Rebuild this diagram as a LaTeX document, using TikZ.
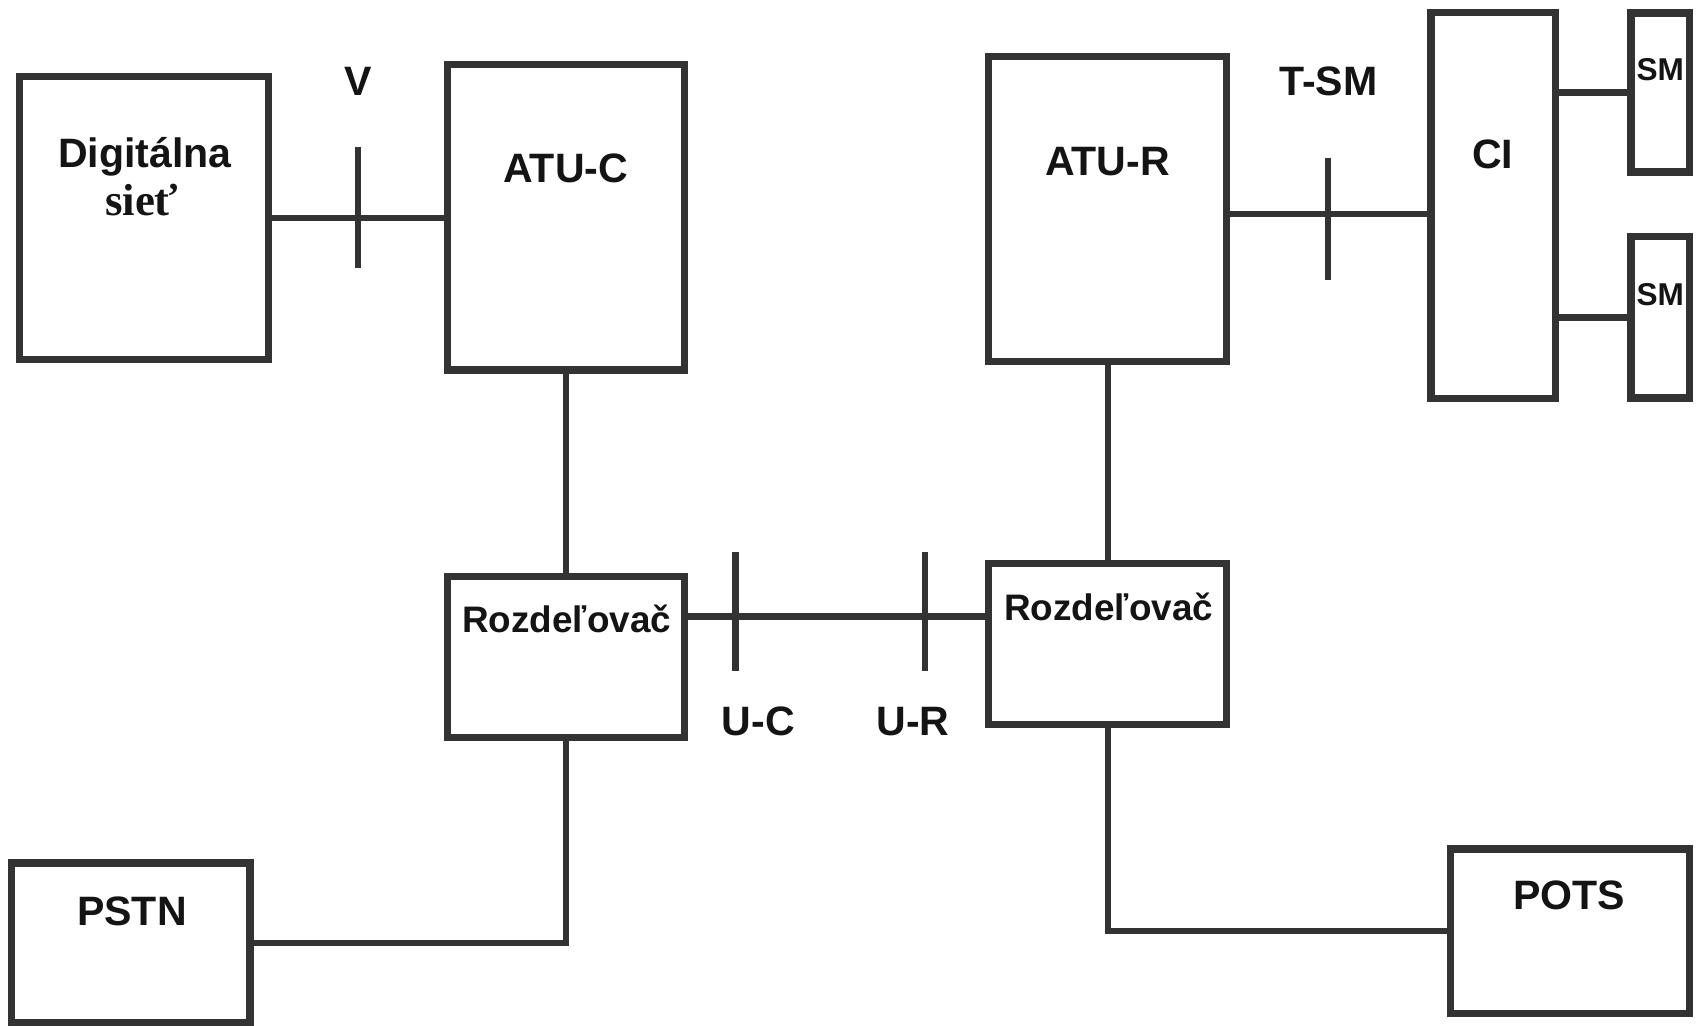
\documentclass[tikz,border=0pt]{standalone}
\usepackage{fontspec}
\setmainfont{Liberation Sans}
\newfontfamily\serifb{Liberation Serif}
\definecolor{ln}{HTML}{333333}
\definecolor{tx}{HTML}{141414}
\begin{document}
\begin{tikzpicture}[x=0.01cm,y=-0.01cm,
  box/.style={draw=ln,line width=1.9pt,inner sep=0pt,outer sep=0pt},
  wire/.style={draw=ln,line width=1.6pt},
  lbl/.style={text=tx,font=\fontsize{10.8}{12}\selectfont\bfseries,inner sep=0pt,anchor=base},
  rz/.style={lbl,font=\fontsize{9.7}{11}\selectfont\bfseries},
  smt/.style={lbl,font=\fontsize{8.3}{10}\selectfont\bfseries}]
\useasboundingbox (0,0) rectangle (1568,948);
% boxes
\node[box,minimum width=2.30cm,minimum height=2.61cm] (dig)  at (133,201.5) {};
\node[box,minimum width=2.19cm,minimum height=2.82cm] (atuc) at (523.5,201) {};
\node[box,minimum width=2.19cm,minimum height=1.49cm] (rozl) at (523.5,607.5) {};
\node[box,minimum width=2.20cm,minimum height=1.49cm] (rozr) at (1024,595.5) {};
\node[box,minimum width=2.20cm,minimum height=2.82cm] (atur) at (1024,193) {};
\node[box,minimum width=1.15cm,minimum height=3.56cm] (ci)   at (1380.5,190) {};
\node[box,minimum width=0.54cm,minimum height=1.47cm] (sma)  at (1535,85.5) {};
\node[box,minimum width=0.54cm,minimum height=1.49cm] (smb)  at (1535,293.5) {};
\node[box,minimum width=2.20cm,minimum height=1.47cm] (pstn) at (121,871.5) {};
\node[box,minimum width=2.21cm,minimum height=1.52cm] (pots) at (1451.5,861) {};
% tick coordinates
\coordinate (vT) at (331,136);   \coordinate (vB) at (331,248);
\coordinate (ucT) at (680,510);  \coordinate (ucB) at (680,620);
\coordinate (urT) at (855,510);  \coordinate (urB) at (855,620);
\coordinate (tsT) at (1228,146); \coordinate (tsB) at (1228,259);
\coordinate (uline) at (760,570);
\coordinate (tline) at (1228,198);
% connectors
\draw[wire] (dig.east) -- (dig.east -| atuc.west);
\draw[wire] (vT) -- (vB);
\draw[wire] (atuc.south) -- (rozl.north);
\draw[wire] (rozl.east |- uline) -- (rozr.west |- uline);
\draw[wire] (ucT) -- (ucB);
\draw[wire] (urT) -- (urB);
\draw[wire] (atur.south) -- (rozr.north);
\draw[wire] (atur.east |- tline) -- (ci.west |- tline);
\draw[wire] (tsT) -- (tsB);
\draw[wire] (ci.east |- sma.west) -- (sma.west);
\draw[wire] (ci.east |- smb.west) -- (smb.west);
\draw[wire] (rozl.south) |- (pstn.east);
\draw[wire] (rozr.south) |- (pots.west);
% labels
\node[lbl] (tdig) at (134,155) {Digitálna};
\node[lbl,font=\serifb\bfseries\fontsize{11.8}{13}\selectfont] (tsiet) at (131,199) {sieť};
\node[lbl] (tv) at (331,88) {V};
\node[lbl] (tatuc) at (523,169) {ATU-C};
\node[lbl] (tatur) at (1024,162) {ATU-R};
\node[lbl] (ttsm) at (1228,88) {T-SM};
\node[lbl] (tci) at (1380,156) {CI};
\node[smt] (tsma) at (1535,74) {SM};
\node[smt] (tsmb) at (1535,282) {SM};
\node[rz] (trozl) at (524,585) {Rozdeľovač};
\node[rz] (trozr) at (1025,574) {Rozdeľovač};
\node[lbl] (tuc) at (701,680) {U-C};
\node[lbl] (tur) at (844,680) {U-R};
\node[lbl] (tpstn) at (122,856) {PSTN};
\node[lbl] (tpots) at (1451,841) {POTS};
\end{tikzpicture}
\end{document}
